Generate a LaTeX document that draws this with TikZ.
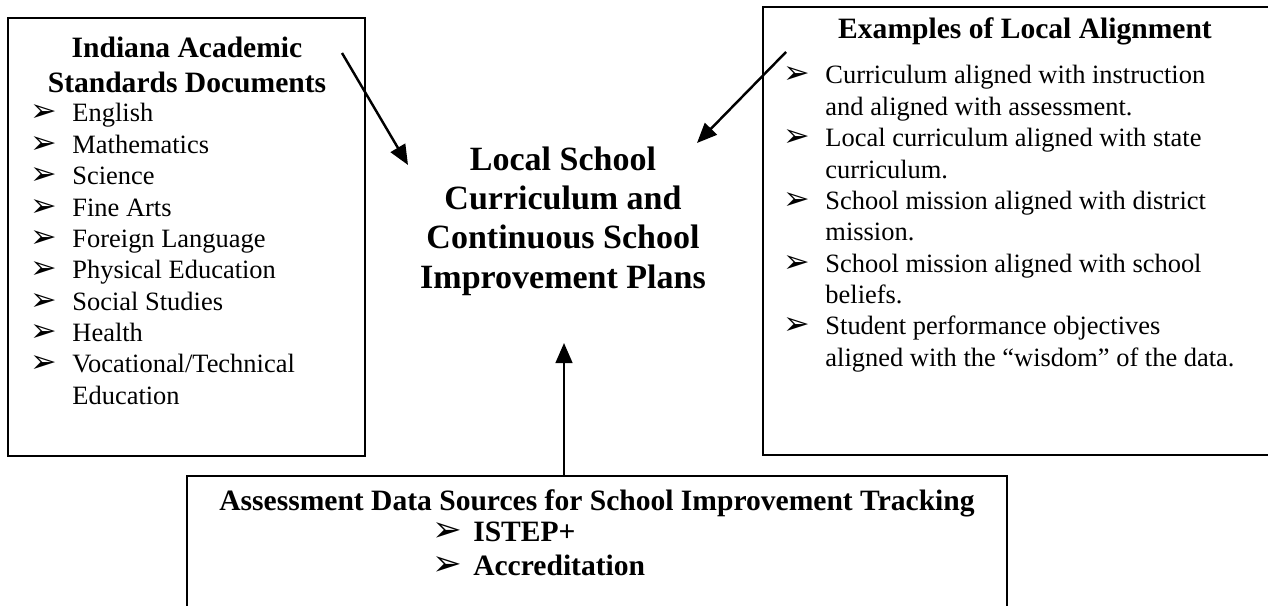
\documentclass[tikz,border=0pt]{standalone}
\usepackage{fontspec}
\setmainfont{Liberation Serif}
\newfontfamily\dingfont{DejaVu Sans}[Scale=1.2]
\usetikzlibrary{arrows.meta}
\newcommand{\itm}{{\dingfont ➢}}

\begin{document}
\begin{tikzpicture}[x = 0.45pt, y = -0.45pt,
    panel/.style = {draw, line width=0.9pt, inner sep=0pt},
    flow/.style = {line width=1.1pt, -{Triangle[length=9pt, width=7.5pt]}},
    head/.style = {inner sep=0pt, font=\bfseries\fontsize{13.3}{15.3}\selectfont},
    list/.style = {inner sep=0pt, anchor=base west, font=\fontsize{11.9}{14.1}\selectfont}]
    \useasboundingbox (0,0) rectangle (1268,605);

    % Boxes with manual coordinates
    \node[panel, minimum width=160.65pt, minimum height=197.1pt] (standards) at (186.5,237) {};
    \node[panel, minimum width=236.25pt, minimum height=201.6pt] (alignment) at (1025.5,231) {};
    \node[panel, minimum width=369pt, minimum height=62.55pt] (tracking) at (597,545.5) {};

    % Texts
    \node[head, anchor=base] (standardshead) at (187,58)
        {\begin{tabular}[t]{@{}c@{}}Indiana Academic\\Standards Documents\end{tabular}};
    \node[list] (standardslist) at (30,122) {\begin{tabular}[t]{@{}p{18.9pt}@{}l@{}}
        \itm & English\\
        \itm & Mathematics\\
        \itm & Science\\
        \itm & Fine Arts\\
        \itm & Foreign Language\\
        \itm & Physical Education\\
        \itm & Social Studies\\
        \itm & Health\\
        \itm & Vocational/Technical\\
             & Education
    \end{tabular}};

    \node[head, anchor=base] (alignmenthead) at (1025,39) {Examples of Local Alignment};
    \node[list] (alignmentlist) at (783,84) {\begin{tabular}[t]{@{}p{18.9pt}@{}l@{}}
        \itm & Curriculum aligned with instruction\\
             & and aligned with assessment.\\
        \itm & Local curriculum aligned with state\\
             & curriculum.\\
        \itm & School mission aligned with district\\
             & mission.\\
        \itm & School mission aligned with school\\
             & beliefs.\\
        \itm & Student performance objectives\\
             & aligned with the “wisdom” of the data.
    \end{tabular}};

    \node[inner sep=0pt, align=center, font=\bfseries\fontsize{15.3}{17.7}\selectfont] (plans) at (563,221)
        {Local School\\Curriculum and\\Continuous School\\Improvement Plans};

    \node[head, anchor=base] (trackinghead) at (597,510)
        {Assessment Data Sources for School Improvement Tracking};
    \node[head, anchor=base west] (istep) at (432,541) {\itm\hspace{5pt}ISTEP+};
    \node[head, anchor=base west] (accred) at (432,575) {\itm\hspace{5pt}Accreditation};

    % Arrow ends
    \coordinate (stdtail) at (342,53);
    \coordinate (stdtip) at (408,165);
    \coordinate (aligntail) at (786,52);
    \coordinate (aligntip) at (697,143);
    \coordinate (trackingtip) at (564,343);

    % Edges
    \draw[flow] (stdtail) -- (stdtip);
    \draw[flow] (aligntail) -- (aligntip);
    \draw[flow] (tracking.north -| trackingtip) -- (trackingtip);
\end{tikzpicture}
\end{document}
